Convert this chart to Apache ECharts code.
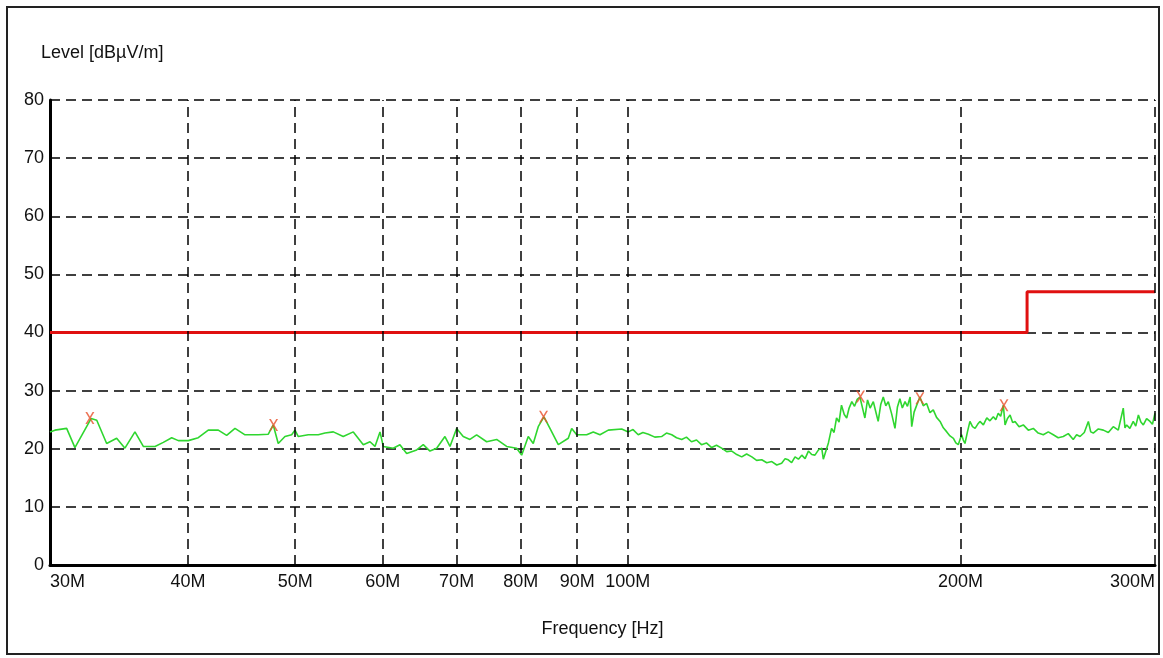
<!DOCTYPE html>
<html><head><meta charset="utf-8">
<script src="https://cdn.jsdelivr.net/npm/echarts@6/dist/echarts.min.js"></script>
<style>html,body{margin:0;padding:0;background:#fff}#c{width:1163px;height:658px}</style>
</head><body><div id="c"></div>
<script>
// Frequency in MHz, level in dBµV/m
const freqMHz = [30.0,30.31,31.06,31.6,32.68,33.07,33.76,34.47,35.07,35.81,36.44,37.34,37.99,38.66,39.2,40.02,40.86,41.72,42.6,43.35,44.11,45.04,46.3,47.28,47.77,48.27,48.95,49.64,49.98,50.33,51.39,52.47,53.21,54.14,55.27,56.44,57.63,58.44,59.05,59.67,60.08,61.34,62.2,63.08,64.41,65.3,66.22,67.15,68.32,69.04,70.0,70.97,71.97,72.98,74.52,76.09,77.69,79.33,80.16,81.27,82.12,82.98,83.97,85.03,86.52,88.34,88.97,89.9,91.79,93.06,94.37,96.02,98.74,
100.1,101.1,102.2,103.2,104.4,105.8,107.3,108.4,109.6,110.7,111.9,113.0,114.2,115.4,116.6,117.8,119.1,120.3,121.6,122.9,124.2,125.5,126.8,128.1,129.5,130.8,132.2,133.6,135.0,136.4,137.8,138.8,139.7,140.7,141.7,142.7,143.7,144.7,145.7,146.7,147.7,148.8,149.8,150.3,150.8,151.9,152.9,153.7,154.5,155.3,156.1,157.0,157.8,158.6,159.5,160.4,161.3,162.2,163.0,163.9,164.8,165.7,166.8,167.6,168.5,169.4,170.3,171.2,172.1,173.3,174.5,175.4,176.3,177.2,178.2,179.1,180.1,180.7,181.6,182.6,183.8,185.1,186.4,187.7,189.0,190.3,191.7,193.0,194.4,195.7,197.1,198.1,199.1,200.5,201.2,201.9,203.0,204.0,205.1,206.2,207.3,208.3,209.8,211.3,212.7,214.2,215.3,216.4,217.5,218.7,219.5,220.6,221.8,223.0,224.1,226.0,228.0,230.4,232.8,235.2,237.7,240.2,242.7,245.2,247.8,250.4,253.0,254.8,256.6,258.9,261.1,262.4,263.8,266.6,269.4,272.2,275.0,277.9,280.8,281.8,282.8,284.7,286.7,288.2,289.8,291.3,292.8,294.8,296.9,298.4,300.0];
const levelDb = [22.9,23.2,23.5,20.2,25.2,24.9,20.9,21.8,20.1,22.9,20.4,20.4,21.1,21.9,21.4,21.4,21.9,23.2,23.2,22.3,23.5,22.4,22.4,22.5,24.1,20.9,22.1,22.4,23.2,22.1,22.4,22.4,22.7,22.9,22.1,22.9,20.7,21.2,20.4,22.9,20.4,20.1,20.7,19.2,19.8,20.7,19.6,20.1,22.1,20.4,23.5,22.1,21.6,22.4,21.2,21.6,20.4,20.1,18.9,22.1,20.9,23.8,25.5,23.5,20.7,21.8,23.5,22.4,22.4,22.9,22.4,23.2,23.4,
22.9,23.3,22.4,22.8,22.5,22.0,22.1,22.7,22.4,21.9,21.6,22.0,21.2,21.5,20.7,21.0,20.2,20.6,20.1,19.5,19.6,19.0,18.6,19.1,18.6,18.0,18.1,17.6,17.8,17.2,17.5,18.3,18.1,17.6,18.6,18.2,18.9,18.3,19.6,19.0,18.9,19.8,20.1,18.2,18.5,21.0,23.5,22.8,25.3,24.6,27.5,25.9,25.3,27.0,28.1,27.3,28.5,28.9,27.2,25.3,28.4,27.0,28.1,26.5,24.7,27.6,28.9,27.4,28.1,26.0,23.5,27.2,28.6,27.0,28.1,27.3,28.9,23.8,26.3,27.5,28.9,27.4,27.8,26.2,26.7,25.4,24.7,23.6,22.9,22.2,21.8,21.0,20.7,22.4,21.5,20.9,23.0,24.7,23.8,23.5,24.2,24.7,24.1,25.3,24.8,25.5,25.0,26.1,25.6,27.5,24.1,25.2,25.8,24.5,24.7,23.8,24.1,23.2,23.5,22.7,22.4,22.9,22.4,21.9,22.1,22.6,21.6,22.4,22.1,22.8,24.7,22.9,22.7,23.4,23.2,22.8,23.8,23.2,27.0,23.6,24.1,23.5,24.7,23.9,25.8,24.6,24.1,25.2,24.7,24.2,26.1];
const limitFreq = [30, 229.8, 229.8, 300];
const limitLevel = [40, 40, 47, 47];
const peakFreq = [32.6, 47.8, 83.9, 162.4, 183.8, 219.0];
const peakLevel = [25.3, 24.1, 25.5, 29.0, 28.7, 27.5];
const xTickMHz = [30, 40, 50, 60, 70, 80, 90, 100, 200, 300];

const FONT = "'Liberation Sans', Arial, sans-serif";
const zip = (a, b) => a.map((v, i) => [v, b[i]]);

const gridLineStyle = { color: '#000', type: [10, 6], width: 1.5 };
const markData = xTickMHz.map((v, i) => {
  const item = { xAxis: v };
  if (i === 0) { item.lineStyle = { color: 'rgba(0,0,0,0)' }; item.label = { align: 'left' }; }
  if (i === xTickMHz.length - 1) { item.label = { align: 'right' }; }
  return item;
});

const chart = echarts.init(document.getElementById('c'));
chart.setOption({
  animation: false,
  backgroundColor: '#fff',
  textStyle: { fontFamily: FONT },
  title: {
    text: 'Level [dBµV/m]', left: 36, top: 39,
    textStyle: { fontFamily: FONT, fontSize: 18, fontWeight: 'normal', color: '#111' }
  },
  graphic: [{
    type: 'rect', shape: { x: 7, y: 7, width: 1152, height: 647 },
    style: { fill: 'none', stroke: '#222', lineWidth: 2 }, z: 100
  }],
  grid: { left: 50, right: 8, top: 100, bottom: 93, containLabel: false },
  xAxis: {
    type: 'log', logBase: 10, min: 30, max: 300,
    axisLine: { show: true, lineStyle: { color: '#000', width: 3 } },
    axisTick: { show: false }, axisLabel: { show: false },
    splitLine: { show: false }, minorTick: { show: false }, minorSplitLine: { show: false },
    name: 'Frequency [Hz]', nameLocation: 'middle', nameGap: 55,
    nameTextStyle: { fontFamily: FONT, fontSize: 18, color: '#111' }
  },
  yAxis: {
    type: 'value', min: 0, max: 80, interval: 10,
    axisLine: { show: true, lineStyle: { color: '#000', width: 3 } },
    axisTick: { show: false },
    axisLabel: { fontFamily: FONT, fontSize: 18, color: '#111', margin: 6 },
    splitLine: { show: true, lineStyle: gridLineStyle }
  },
  series: [
    {
      name: 'grid', type: 'line', data: [], z: 1, silent: true,
      markLine: {
        silent: true, symbol: 'none', animation: false,
        lineStyle: gridLineStyle,
        label: {
          show: true, position: 'start', distance: 8,
          formatter: p => p.value + 'M',
          fontFamily: FONT, fontSize: 18, color: '#111'
        },
        data: markData
      }
    },
    {
      name: 'limit', type: 'line', data: zip(limitFreq, limitLevel), z: 3,
      showSymbol: false, lineStyle: { color: '#e01010', width: 3 }, itemStyle: { color: '#e01010' }
    },
    {
      name: 'level', type: 'line', data: zip(freqMHz, levelDb), z: 4,
      showSymbol: false, lineStyle: { color: '#2fd62f', width: 1.6 }, itemStyle: { color: '#2fd62f' }
    },
    {
      name: 'peaks', type: 'scatter', data: zip(peakFreq, peakLevel), z: 5,
      symbol: 'path://M0,0 L2,0 L5,4.5 L8,0 L10,0 L6,6 L10,12 L8,12 L5,7.5 L2,12 L0,12 L4,6 Z',
      symbolSize: [9, 12], itemStyle: { color: '#e8502a' }
    }
  ]
});
</script>
</body></html>
